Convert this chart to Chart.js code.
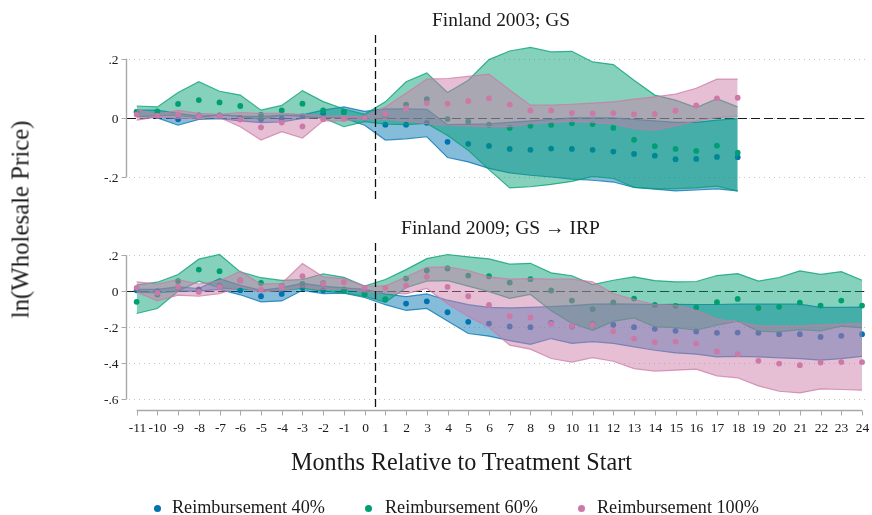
<!DOCTYPE html>
<html>
<head>
<meta charset="utf-8">
<script src="https://cdn.jsdelivr.net/npm/chart.js@4.4.0/dist/chart.umd.min.js"></script>
<style>
html,body{margin:0;padding:0;background:#fff;}
#wrap{position:relative;width:872px;height:515px;overflow:hidden;font-family:"Liberation Serif",serif;color:#1a1a1a;}
canvas{position:absolute;left:0;top:0;}
.t{position:absolute;white-space:nowrap;line-height:1;display:inline-block;}
.dot{position:absolute;width:7px;height:7px;border-radius:50%;}
</style>
</head>
<body>
<div id="wrap">
<canvas id="c1" width="872" height="515"></canvas>
<canvas id="c2" width="872" height="515"></canvas>
<div class="t" id="title1">Finland 2003; GS</div>
<div class="t" id="title2">Finland 2009; GS → IRP</div>
<div class="t" id="ytitle">ln(Wholesale Price)</div>
<div class="t" id="xtitle">Months Relative to Treatment Start</div>
<div class="dot" id="d1" style="background:#0072B2"></div>
<div class="dot" id="d2" style="background:#009E73"></div>
<div class="dot" id="d3" style="background:#CC79A7"></div>
<div class="t" id="l1">Reimbursement 40%</div>
<div class="t" id="l2">Reimbursement 60%</div>
<div class="t" id="l3">Reimbursement 100%</div>
</div>
<script>
// ---------- DATA ----------
const monthsTop = [-11,-10,-9,-8,-7,-6,-5,-4,-3,-2,-1,0,1,2,3,4,5,6,7,8,9,10,11,12,13,14,15,16,17,18];
const monthsBottom = [-11,-10,-9,-8,-7,-6,-5,-4,-3,-2,-1,0,1,2,3,4,5,6,7,8,9,10,11,12,13,14,15,16,17,18,19,20,21,22,23,24];
const xTickLabels = ["-11","-10","-9","-8","-7","-6","-5","-4","-3","-2","-1","0","1","2","3","4","5","6","7","8","9","10","11","12","13","14","15","16","17","18","19","20","21","22","23","24"];
const yTicksTop = [0.2, 0, -0.2];
const yTickLabelsTop = [".2", "0", "-.2"];
const yTicksBottom = [0.2, 0, -0.2, -0.4, -0.6];
const yTickLabelsBottom = [".2", "0", "-.2", "-.4", "-.6"];
const seriesNames = ["Reimbursement 40%", "Reimbursement 60%", "Reimbursement 100%"];

// Finland 2003; GS
const top40 =    [0.02,0.01,-0.005,0.008,0.008,0.0,-0.005,-0.003,0.005,0.015,0.02,0.0,-0.023,-0.023,-0.017,-0.081,-0.088,-0.095,-0.105,-0.108,-0.104,-0.105,-0.108,-0.114,-0.122,-0.128,-0.14,-0.139,-0.132,-0.133];
const top40Hi =  [0.026,0.026,0.015,0.006,0.009,0.006,0.005,0.009,0.01,0.026,0.037,0.022,0.03,0.03,0.029,-0.023,-0.022,-0.02,-0.015,-0.01,-0.005,0.0,0.0,0.0,-0.005,-0.01,-0.015,-0.015,-0.008,-0.003];
const top40Lo =  [0.005,0.0,-0.025,-0.005,-0.003,-0.01,-0.016,-0.014,-0.002,0.002,0.0,-0.025,-0.075,-0.071,-0.064,-0.134,-0.149,-0.171,-0.186,-0.194,-0.2,-0.207,-0.211,-0.217,-0.235,-0.241,-0.247,-0.244,-0.24,-0.247];
const top60 =    [0.02,0.022,0.047,0.06,0.052,0.04,0.01,0.025,0.048,0.025,0.02,0.0,0.01,0.045,0.063,-0.004,-0.013,-0.023,-0.034,-0.027,-0.024,-0.018,-0.021,-0.034,-0.074,-0.096,-0.105,-0.112,-0.094,-0.118];
const top60Hi =  [0.04,0.037,0.086,0.122,0.09,0.077,0.026,0.042,0.092,0.055,0.03,0.012,0.054,0.122,0.152,0.086,0.127,0.197,0.226,0.238,0.223,0.225,0.189,0.18,0.127,0.077,0.06,0.035,0.065,0.037];
const top60Lo =  [0.003,0.008,0.008,0.0,0.012,0.005,-0.005,0.008,0.005,0.0,-0.03,-0.013,-0.021,-0.023,-0.019,-0.06,-0.11,-0.175,-0.237,-0.233,-0.225,-0.215,-0.198,-0.205,-0.235,-0.239,-0.239,-0.237,-0.231,-0.248];
const top100 =   [0.011,0.007,0.011,0.005,0.007,-0.006,-0.032,-0.016,-0.029,-0.005,-0.003,0.0,0.013,0.032,0.05,0.048,0.057,0.066,0.045,0.025,0.025,0.016,0.015,0.016,0.012,0.013,0.024,0.042,0.066,0.068];
const top100Hi = [0.028,0.012,0.025,0.015,0.012,0.018,0.015,0.015,0.012,0.006,0.006,0.003,0.037,0.083,0.131,0.133,0.14,0.148,0.094,0.043,0.043,0.046,0.05,0.054,0.063,0.071,0.08,0.1,0.131,0.131];
const top100Lo = [-0.008,0.003,-0.002,-0.002,0.001,-0.03,-0.075,-0.047,-0.068,-0.01,-0.01,-0.003,-0.005,-0.01,-0.02,-0.025,-0.027,-0.03,-0.03,-0.02,-0.015,-0.012,-0.015,-0.02,-0.036,-0.042,-0.027,-0.01,0.001,0.006];

// Finland 2009; GS -> IRP
const bot40 =    [0.005,0.0,0.02,0.01,0.03,0.005,-0.028,-0.015,0.02,0.005,0.005,-0.01,-0.045,-0.069,-0.056,-0.117,-0.17,-0.18,-0.196,-0.2,-0.176,-0.196,-0.183,-0.187,-0.2,-0.209,-0.22,-0.224,-0.231,-0.23,-0.231,-0.239,-0.239,-0.254,-0.248,-0.239];
const bot40Hi =  [0.01,0.01,0.024,0.015,0.07,0.033,0.005,0.02,0.043,0.028,0.019,0.01,-0.015,-0.03,-0.015,-0.05,-0.075,-0.09,-0.093,-0.09,-0.085,-0.08,-0.072,-0.07,-0.072,-0.074,-0.073,-0.074,-0.074,-0.072,-0.072,-0.072,-0.072,-0.09,-0.09,-0.088];
const bot40Lo =  [-0.005,-0.01,0.0,0.0,0.01,-0.02,-0.059,-0.054,0.005,-0.013,-0.011,-0.035,-0.075,-0.107,-0.096,-0.165,-0.235,-0.25,-0.275,-0.295,-0.263,-0.29,-0.28,-0.29,-0.309,-0.328,-0.343,-0.35,-0.365,-0.362,-0.365,-0.37,-0.375,-0.383,-0.375,-0.362];
const bot60 =    [-0.059,-0.019,0.056,0.12,0.111,0.06,0.046,0.03,0.041,0.045,0.01,-0.018,-0.046,0.07,0.115,0.126,0.087,0.083,0.048,0.067,0.004,-0.052,-0.1,-0.062,-0.041,-0.076,-0.081,-0.091,-0.061,-0.043,-0.093,-0.087,-0.063,-0.08,-0.052,-0.08];
const bot60Hi =  [0.035,0.05,0.093,0.178,0.204,0.107,0.075,0.06,0.065,0.097,0.077,0.028,0.065,0.12,0.181,0.204,0.191,0.18,0.15,0.155,0.102,0.086,0.037,0.061,0.08,0.059,0.052,0.054,0.087,0.098,0.056,0.076,0.113,0.093,0.109,0.061];
const bot60Lo =  [-0.124,-0.096,0.0,0.056,0.018,0.01,0.005,0.005,0.015,0.0,-0.01,-0.028,-0.062,0.019,0.056,0.059,0.028,-0.002,-0.04,-0.018,-0.108,-0.178,-0.217,-0.168,-0.148,-0.198,-0.202,-0.217,-0.189,-0.167,-0.222,-0.226,-0.213,-0.22,-0.194,-0.204];
const bot100 =   [0.019,-0.009,0.024,-0.004,0.024,0.061,0.009,0.024,0.083,0.041,0.05,0.019,0.019,0.031,0.08,0.024,-0.028,-0.076,-0.139,-0.146,-0.181,-0.194,-0.187,-0.222,-0.263,-0.283,-0.28,-0.291,-0.335,-0.35,-0.387,-0.402,-0.411,-0.396,-0.394,-0.394];
const bot100Hi = [0.052,0.039,0.065,0.04,0.057,0.111,0.039,0.043,0.154,0.08,0.07,0.028,0.03,0.078,0.133,0.135,0.115,0.08,0.067,0.07,0.067,0.067,0.052,-0.013,-0.046,-0.074,-0.078,-0.106,-0.156,-0.17,-0.194,-0.194,-0.194,-0.189,-0.183,-0.18];
const bot100Lo = [-0.004,-0.054,-0.022,-0.028,-0.013,0.024,-0.004,0.005,0.024,0.01,0.015,-0.004,-0.01,-0.015,0.015,-0.07,-0.14,-0.2,-0.3,-0.322,-0.374,-0.394,-0.369,-0.389,-0.43,-0.444,-0.439,-0.433,-0.47,-0.481,-0.526,-0.556,-0.565,-0.543,-0.546,-0.55];

// ---------- STYLE ----------
const COLORS = [["#0072B2","0,114,178"],["#009E73","0,158,115"],["#CC79A7","204,121,167"]];
const FONT = '"Liberation Serif", "Times New Roman", serif';

function xy(months, vals){ return months.map((m,i)=>({x:m, y:vals[i]})); }

function buildDatasets(months, groups){
  const ds = [];
  groups.forEach((g, gi) => {
    const [solid, rgb] = COLORS[gi];
    const base = (2 - gi) * 3; // blue lowest layer, pink on top
    const loIdx = ds.length;
    ds.push({data: xy(months, g.lo), borderColor:`rgba(${rgb},0.75)`, borderWidth:1.2, pointRadius:0, fill:false, order: base+2});
    ds.push({data: xy(months, g.hi), borderColor:`rgba(${rgb},0.75)`, borderWidth:1.2, pointRadius:0,
             backgroundColor:`rgba(${rgb},0.48)`, fill:{target: loIdx}, order: base+1});
    ds.push({data: xy(months, g.pt), showLine:false, pointRadius:2.9, pointBackgroundColor:solid, pointBorderWidth:0, borderWidth:0, order: base});
  });
  return ds;
}

const deco = {
  id: 'deco',
  beforeDatasetsDraw(chart, args, o){
    const {ctx, chartArea:a, scales:{y}} = chart;
    ctx.save();
    ctx.strokeStyle = '#c4c4c4'; ctx.lineWidth = 1; ctx.setLineDash([1,4]);
    o.yTicks.forEach(v=>{
      const py = Math.round(y.getPixelForValue(v)) + 0.5;
      ctx.beginPath(); ctx.moveTo(a.left+3, py); ctx.lineTo(a.right, py); ctx.stroke();
    });
    const p0 = Math.round(y.getPixelForValue(0)) + 0.5;
    ctx.strokeStyle = '#1a1a1a'; ctx.lineWidth = 1.1; ctx.setLineDash([9,4]);
    ctx.beginPath(); ctx.moveTo(a.left+1, p0); ctx.lineTo(a.right, p0); ctx.stroke();
    ctx.restore();
  },
  afterDatasetsDraw(chart, args, o){
    const {ctx, chartArea:a, scales:{x, y}} = chart;
    ctx.save();
    // vertical treatment line
    const vx = Math.round(x.getPixelForValue(0.5)) + 0.5;
    ctx.strokeStyle = '#111'; ctx.lineWidth = 1.3; ctx.setLineDash([8,4]);
    ctx.beginPath(); ctx.moveTo(vx, a.top); ctx.lineTo(vx, a.bottom); ctx.stroke();
    ctx.setLineDash([]);
    // y axis
    const ax = a.left + 0.5;
    ctx.strokeStyle = '#a8a8a8'; ctx.lineWidth = 1.4;
    const yTop = y.getPixelForValue(o.yTicks[0]), yBot = y.getPixelForValue(o.yTicks[o.yTicks.length-1]);
    ctx.beginPath(); ctx.moveTo(ax, yTop); ctx.lineTo(ax, yBot); ctx.stroke();
    ctx.lineWidth = 1;
    ctx.fillStyle = '#1a1a1a'; ctx.font = '13.5px ' + FONT; ctx.textAlign = 'right'; ctx.textBaseline = 'middle';
    o.yTicks.forEach((v,i)=>{
      const py = Math.round(y.getPixelForValue(v)) + 0.5;
      ctx.beginPath(); ctx.moveTo(ax-5, py); ctx.lineTo(ax, py); ctx.stroke();
      ctx.fillText(o.yLabels[i], ax-8, py+0.5);
    });
    if (o.showX){
      const ay = a.bottom + 0.5;
      const x0 = x.getPixelForValue(o.xMonths[0]), x1 = x.getPixelForValue(o.xMonths[o.xMonths.length-1]);
      ctx.lineWidth = 1.4;
      ctx.beginPath(); ctx.moveTo(x0, ay); ctx.lineTo(x1, ay); ctx.stroke();
      ctx.lineWidth = 1;
      ctx.textAlign = 'center'; ctx.textBaseline = 'alphabetic';
      o.xMonths.forEach((m,i)=>{
        const px = Math.round(x.getPixelForValue(m)) + 0.5;
        ctx.beginPath(); ctx.moveTo(px, ay); ctx.lineTo(px, ay+5); ctx.stroke();
        ctx.fillText(o.xLabels[i], px, 432);
      });
    }
    ctx.restore();
  }
};

function makeChart(id, months, groups, pad, yMin, yMax, decoOpts){
  return new Chart(document.getElementById(id), {
    type: 'line',
    data: { datasets: buildDatasets(months, groups) },
    options: {
      responsive:false, animation:false, events:[],
      layout:{padding:pad},
      elements:{line:{tension:0}},
      scales:{
        x:{type:'linear', min:-11.5135, max:24.288, display:false},
        y:{type:'linear', min:yMin, max:yMax, display:false}
      },
      plugins:{legend:{display:false}, tooltip:{enabled:false}, filler:{drawTime:'beforeDatasetDraw'}, deco: decoOpts}
    },
    plugins:[deco]
  });
}

makeChart('c1', monthsTop, [
  {pt:top40, lo:top40Lo, hi:top40Hi},
  {pt:top60, lo:top60Lo, hi:top60Hi},
  {pt:top100, lo:top100Lo, hi:top100Hi}
], {left:126, right:0, top:35, bottom:312}, -0.2879, 0.2801,
  {yTicks:yTicksTop, yLabels:yTickLabelsTop, showX:false});

makeChart('c2', monthsBottom, [
  {pt:bot40, lo:bot40Lo, hi:bot40Hi},
  {pt:bot60, lo:bot60Lo, hi:bot60Hi},
  {pt:bot100, lo:bot100Lo, hi:bot100Hi}
], {left:126, right:0, top:243, bottom:105}, -0.66, 0.2678,
  {yTicks:yTicksBottom, yLabels:yTickLabelsBottom, showX:true, xMonths:monthsBottom, xLabels:xTickLabels});

// ---------- TEXT PLACEMENT ----------
function fitSize(el, targetW, fs0){
  el.style.fontSize = fs0 + 'px';
  const w = el.getBoundingClientRect().width;
  const fs = fs0 * targetW / w;
  el.style.fontSize = fs + 'px';
  return fs;
}
function placeCenter(id, cx, baseline, targetW){
  const el = document.getElementById(id);
  const fs = fitSize(el, targetW, 16);
  const w = el.getBoundingClientRect().width;
  el.style.left = (cx - w/2) + 'px';
  el.style.top = (baseline - 0.8375*fs) + 'px';
}
function placeLeft(id, left, baseline, targetW){
  const el = document.getElementById(id);
  const fs = fitSize(el, targetW, 16);
  el.style.left = left + 'px';
  el.style.top = (baseline - 0.8375*fs) + 'px';
}
function placeRotated(id, baselineX, cy, targetLen){
  const el = document.getElementById(id);
  const fs = fitSize(el, targetLen, 18);
  const w = el.getBoundingClientRect().width, h = el.getBoundingClientRect().height;
  const cx = baselineX - 0.3375*fs;
  el.style.left = (cx - w/2) + 'px';
  el.style.top = (cy - h/2) + 'px';
  el.style.transform = 'rotate(-90deg)';
}
placeCenter('title1', 501, 26.5, 138);
placeCenter('title2', 500.5, 234, 199);
placeCenter('xtitle', 461.5, 470, 341);
placeRotated('ytitle', 29, 219, 198);
placeLeft('l1', 172, 513, 153);
placeLeft('l2', 385, 513, 153);
placeLeft('l3', 597, 513, 162);
[['d1',157],['d2',368],['d3',581]].forEach(([id,cx])=>{
  const d = document.getElementById(id); d.style.left=(cx-3.5)+'px'; d.style.top=(508-3.5)+'px';
});
</script>
</body>
</html>
